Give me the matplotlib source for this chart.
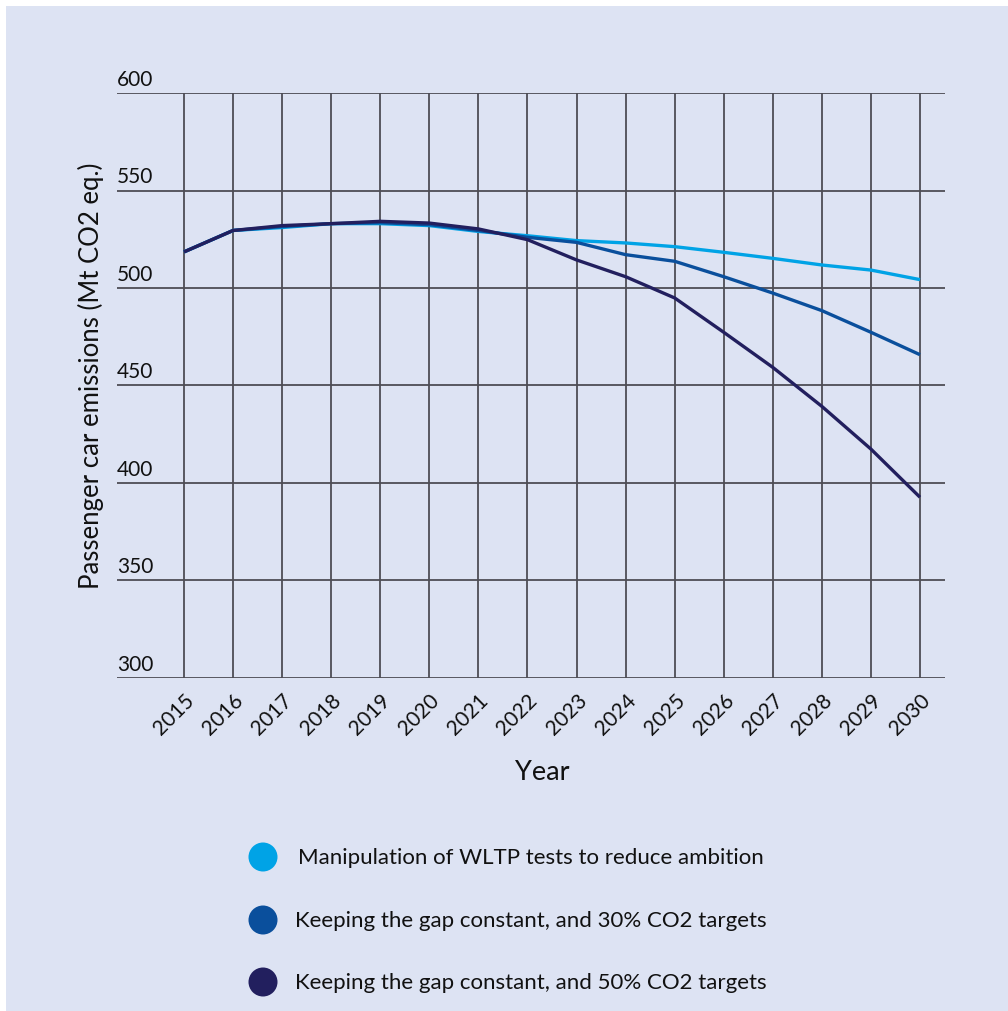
import matplotlib
matplotlib.use("Agg")
import matplotlib.pyplot as plt
from matplotlib.patches import Rectangle, Circle
from matplotlib.transforms import offset_copy

plt.rcParams['font.family'] = ['Lato', 'DejaVu Sans']

years = list(range(2015, 2031))
wltp_manipulation = [518.5, 529.5, 531.0, 533.0, 533.0, 532.0, 529.0, 526.8, 524.3, 523.1,
                     521.2, 518.3, 515.2, 511.8, 509.2, 504.3]
gap_const_30 = [518.5, 529.5, 531.5, 533.0, 533.5, 532.5, 529.5, 526.0, 523.4, 517.1,
                513.7, 505.8, 497.4, 488.4, 477.3, 465.8]
gap_const_50 = [518.5, 529.5, 532.0, 533.0, 534.2, 533.3, 530.3, 524.8, 514.4, 505.8,
                494.9, 477.3, 459.3, 439.3, 417.4, 392.7]
series_labels = ["Manipulation of WLTP tests to reduce ambition",
                 "Keeping the gap constant, and 30% CO2 targets",
                 "Keeping the gap constant, and 50% CO2 targets"]
series_colors = ["#00a3e6", "#0a4f9c", "#221f5e"]
y_ticks = [300, 350, 400, 450, 500, 550, 600]

BG = "#dde3f3"
W, H = 1008, 1012
fig = plt.figure(figsize=(W / 100, H / 100), dpi=100, facecolor="white")
fig.patches.append(Rectangle((6 / W, 0), 1 - 6 / W, 1 - 7 / H, transform=fig.transFigure,
                             facecolor=BG, edgecolor="none", zorder=-10))

ax = fig.add_axes([117 / W, 1 - 679 / H, (945 - 117) / W, (679 - 94) / H])
ax.set_facecolor("none")
ax.set_xlim(2013.635, 2030.51)
ax.set_ylim(300, 600)
for s in ax.spines.values():
    s.set_visible(False)

grid_color = "#4d4d55"
for v in y_ticks:
    ax.axhline(v, color=grid_color, lw=1.3, zorder=1)
for yr in years:
    ax.axvline(yr, color=grid_color, lw=1.3, zorder=1)

for vals, col in zip([wltp_manipulation, gap_const_30, gap_const_50], series_colors):
    ax.plot(years, vals, color=col, lw=2.4, zorder=3, solid_capstyle="butt")

ax.set_yticks([])
ax.set_xticks(years)
ax.set_xticklabels([str(y) for y in years], rotation=45, ha="right", va="top",
                   rotation_mode="anchor", fontsize=15, color="#111111")
ax.tick_params(axis="x", length=0, pad=8)

ytrans = offset_copy(ax.get_yaxis_transform(), fig=fig, x=0, y=4, units="dots")
for v in y_ticks:
    ax.text(0, v, str(v), transform=ytrans, ha="left", va="bottom",
            fontsize=15, color="#111111")

fig.text(91 / W, 1 - 376 / H, "Passenger car emissions (Mt CO2 eq.)", rotation=90,
         ha="center", va="center", fontsize=18.5, color="#111111")
fig.text(542 / W, 1 - 772 / H, "Year", ha="center", va="center", fontsize=19.5,
         color="#111111")

legend_y = [858, 921, 983]
legend_tx = [298, 295, 295]
circle_r = 14.5 / 100
for lab, col, yy, tx in zip(series_labels, series_colors, legend_y, legend_tx):
    fig.patches.append(Circle((263 / 100, (H - yy) / 100), circle_r,
                              transform=fig.dpi_scale_trans,
                              facecolor=col, edgecolor="none"))
    fig.text(tx / W, 1 - yy / H, lab, ha="left", va="center", fontsize=16,
             color="#111111")

fig.savefig("out.png", dpi=100, facecolor="white")
